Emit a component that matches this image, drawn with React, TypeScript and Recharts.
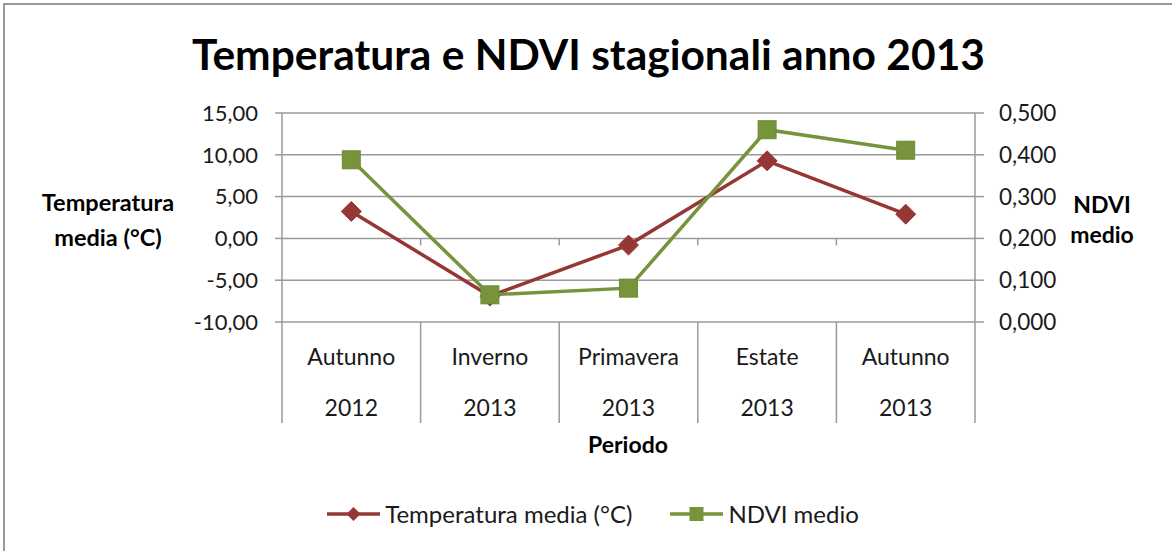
import React from 'react';
import { LineChart, Line, XAxis, YAxis, CartesianGrid, Legend } from 'recharts';

// ---- data ----
const seasons = ['Autunno', 'Inverno', 'Primavera', 'Estate', 'Autunno'];
const years = ['2012', '2013', '2013', '2013', '2013'];
const temperature = [3.23, -6.9, -0.8, 9.28, 2.9];
const ndvi = [0.388, 0.065, 0.081, 0.46, 0.411];
const tempTicks = [-10, -5, 0, 5, 10, 15];
const ndviTicks = [0, 0.1, 0.2, 0.3, 0.4, 0.5];

const TITLE = 'Temperatura e NDVI stagionali anno 2013';
const TEMP_NAME = 'Temperatura media (°C)';
const NDVI_NAME = 'NDVI medio';
const LEFT_LABEL = ['Temperatura', 'media (°C)'];
const RIGHT_LABEL = ['NDVI', 'medio'];
const X_LABEL = 'Periodo';
const SERIES_ORDER = ['temp', 'ndvi'];

const data = seasons.map((s, i) => ({
  period: `${s} ${years[i]}`,
  temp: temperature[i],
  ndvi: ndvi[i],
}));

// ---- layout / style ----
const W = 1172;
const H = 551;
const PLOT_LEFT = 282;
const PLOT_RIGHT = 975;
const PLOT_TOP = 113;
const PLOT_BOTTOM = 322;
const PLOT_W = PLOT_RIGHT - PLOT_LEFT;
const PLOT_H = PLOT_BOTTOM - PLOT_TOP;
const HALF = PLOT_W / seasons.length / 2;
const Y_AXIS_W = 90;
const X_AXIS_H = 120;

const RED = '#953735';
const GREEN = '#77933C';
const GRID = '#9a9a9a';
const FONT = 'Lato, "Open Sans", sans-serif';
const TEXT = '#1a1a1a';

const fmt2 = (v: number) => v.toFixed(2).replace('.', ',');
const fmt3 = (v: number) => v.toFixed(3).replace('.', ',');

const DiamondDot = (props: any) => {
  const { cx, cy } = props;
  if (cx == null || cy == null) return null;
  const r = 10;
  return (
    <polygon
      points={`${cx},${cy - r} ${cx + r},${cy} ${cx},${cy + r} ${cx - r},${cy}`}
      fill={RED}
      stroke={RED}
    />
  );
};

const SquareDot = (props: any) => {
  const { cx, cy } = props;
  if (cx == null || cy == null) return null;
  const s = 9;
  return <rect x={cx - s} y={cy - s} width={2 * s} height={2 * s} fill={GREEN} stroke="#6f8a37" strokeWidth={1} />;
};

const CategoryTick = (props: any) => {
  const { x, y, index } = props;
  const last = index === seasons.length - 1;
  const zeroY = y - ((0 - tempTicks[0]) / (tempTicks[tempTicks.length - 1] - tempTicks[0])) * PLOT_H;
  return (
    <g>
      <line x1={x - HALF} y1={y} x2={x - HALF} y2={y + 101} stroke={GRID} strokeWidth={1.5} />
      {last && <line x1={x + HALF} y1={y} x2={x + HALF} y2={y + 101} stroke={GRID} strokeWidth={1.5} />}
      {index > 0 && <line x1={x - HALF} y1={zeroY} x2={x - HALF} y2={zeroY + 7} stroke={GRID} strokeWidth={1.5} />}
      <text x={x} y={y + 43} textAnchor="middle" fontFamily={FONT} fontSize={23} fill={TEXT}>
        {seasons[index]}
      </text>
      <text x={x} y={y + 94} textAnchor="middle" fontFamily={FONT} fontSize={23} fill={TEXT}>
        {years[index]}
      </text>
    </g>
  );
};

const LegendContent = (props: any) => {
  const payload = [...(props.payload || [])].sort(
    (a: any, b: any) => SERIES_ORDER.indexOf(a.dataKey) - SERIES_ORDER.indexOf(b.dataKey)
  );
  return (
    <div
      style={{
        display: 'flex',
        justifyContent: 'center',
        alignItems: 'center',
        gap: 38,
        paddingLeft: 14,
        fontFamily: FONT,
        fontSize: 24,
        color: TEXT,
      }}
    >
      {payload.map((p: any) => (
        <div key={p.value} style={{ display: 'flex', alignItems: 'center' }}>
          <svg width={53} height={24} style={{ marginRight: 5 }}>
            <line x1={0} y1={12} x2={53} y2={12} stroke={p.color} strokeWidth={3.5} />
            {p.dataKey === 'temp' ? (
              <polygon points="26.5,5 33.5,12 26.5,19 19.5,12" fill={p.color} />
            ) : (
              <rect x={19.5} y={5} width={14} height={14} fill={p.color} />
            )}
          </svg>
          <span>{p.value}</span>
        </div>
      ))}
    </div>
  );
};

export default function App() {
  return (
    <div style={{ position: 'absolute', left: 0, top: 0, width: W, height: H, overflow: 'hidden', background: '#fff' }}>
      <div
        style={{
          position: 'absolute',
          left: 3,
          top: 3,
          width: W + 100,
          height: H + 100,
          borderLeft: '2px solid #999',
          borderTop: '2px solid #999',
        }}
      />
      <LineChart
        width={W}
        height={H}
        data={data}
        margin={{
          top: PLOT_TOP,
          left: PLOT_LEFT - Y_AXIS_W,
          right: W - PLOT_RIGHT - Y_AXIS_W,
          bottom: H - PLOT_BOTTOM - X_AXIS_H,
        }}
        style={{ position: 'absolute', left: 0, top: 0 }}
      >
        <CartesianGrid yAxisId="temp" vertical={false} stroke={GRID} strokeWidth={1.5} />
        <XAxis
          dataKey="period"
          padding={{ left: HALF, right: HALF }}
          axisLine={false}
          tickLine={false}
          tickSize={0}
          tickMargin={0}
          interval={0}
          height={X_AXIS_H}
          tick={<CategoryTick />}
        />
        <YAxis
          yAxisId="temp"
          domain={[tempTicks[0], tempTicks[tempTicks.length - 1]]}
          ticks={tempTicks}
          tickFormatter={fmt2}
          width={Y_AXIS_W}
          axisLine={{ stroke: GRID, strokeWidth: 1.5 }}
          tickLine={{ stroke: GRID, strokeWidth: 1.5 }}
          tickSize={7}
          tickMargin={17}
          tick={{ fontFamily: FONT, fontSize: 22, fill: TEXT }}
          allowDataOverflow
        />
        <YAxis
          yAxisId="ndvi"
          orientation="right"
          domain={[ndviTicks[0], ndviTicks[ndviTicks.length - 1]]}
          ticks={ndviTicks}
          tickFormatter={fmt3}
          width={Y_AXIS_W}
          axisLine={{ stroke: GRID, strokeWidth: 1.5 }}
          tickLine={{ stroke: GRID, strokeWidth: 1.5 }}
          tickSize={9}
          tickMargin={15}
          tick={{ fontFamily: FONT, fontSize: 22.5, fill: TEXT, textAnchor: 'start' }}
          allowDataOverflow
        />
        <Line
          yAxisId="temp"
          type="linear"
          dataKey="temp"
          name={TEMP_NAME}
          stroke={RED}
          strokeWidth={3.5}
          dot={<DiamondDot />}
          activeDot={false}
          isAnimationActive={false}
        />
        <Line
          yAxisId="ndvi"
          type="linear"
          dataKey="ndvi"
          name={NDVI_NAME}
          stroke={GREEN}
          strokeWidth={3.5}
          dot={<SquareDot />}
          activeDot={false}
          isAnimationActive={false}
        />
        <Legend
          verticalAlign="middle"
          align="center"
          layout="horizontal"
          wrapperStyle={{ top: 499, left: 0, width: W, height: 32 }}
          content={<LegendContent />}
        />
      </LineChart>
      <svg width={W} height={H} style={{ position: 'absolute', left: 0, top: 0, pointerEvents: 'none' }}>
        <text x={588.5} y={70} textAnchor="middle" fontFamily={FONT} fontWeight={700} fontSize={42.5} fill="#000">
          {TITLE}
        </text>
        <text x={108} y={211} textAnchor="middle" fontFamily={FONT} fontWeight={700} fontSize={23.5} fill="#000">
          {LEFT_LABEL[0]}
        </text>
        <text x={108} y={246} textAnchor="middle" fontFamily={FONT} fontWeight={700} fontSize={23.5} fill="#000">
          {LEFT_LABEL[1]}
        </text>
        <text x={1102} y={213} textAnchor="middle" fontFamily={FONT} fontWeight={700} fontSize={23} fill="#000">
          {RIGHT_LABEL[0]}
        </text>
        <text x={1102} y={243} textAnchor="middle" fontFamily={FONT} fontWeight={700} fontSize={23} fill="#000">
          {RIGHT_LABEL[1]}
        </text>
        <text x={628} y={453} textAnchor="middle" fontFamily={FONT} fontWeight={700} fontSize={23} fill="#000">
          {X_LABEL}
        </text>
      </svg>
    </div>
  );
}
